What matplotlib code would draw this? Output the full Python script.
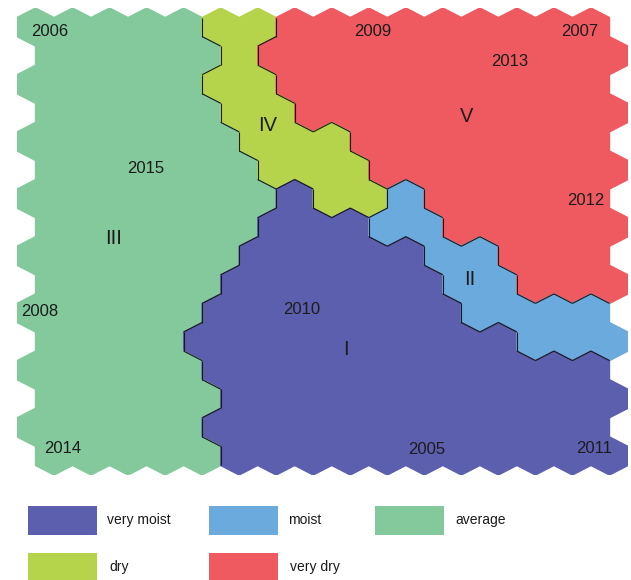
#!/usr/bin/env python3
"""
Hexagonal SOM map of the years, coloured by moisture class
"""

import matplotlib
matplotlib.use("Agg")
import matplotlib.pyplot as plt
from matplotlib.collections import PolyCollection, LineCollection
from matplotlib.patches import Rectangle

plt.rcParams['font.family'] = ['Liberation Sans', 'DejaVu Sans']

# Class of each SOM node, one string per row (odd rows shifted half a cell right)
# D = very moist, L = moist, G = average, Y = dry, R = very dry
som_rows = [
    "GGGGGYYRRRRRRRRR",
    "GGGGGYRRRRRRRRRR",
    "GGGGGYYRRRRRRRRR",
    "GGGGGYYRRRRRRRRR",
    "GGGGGGYYYRRRRRRR",
    "GGGGGGYYYRRRRRRR",
    "GGGGGGGDYYLRRRRR",
    "GGGGGGDDDLLRRRRR",
    "GGGGGGDDDDDLLRRR",
    "GGGGGDDDDDDLLRRR",
    "GGGGGDDDDDDDLLLL",
    "GGGGDDDDDDDDDLLL",
    "GGGGGDDDDDDDDDDD",
    "GGGGGDDDDDDDDDDD",
    "GGGGGDDDDDDDDDDD",
    "GGGGGDDDDDDDDDDD",
]

class_codes = ["D", "L", "G", "Y", "R"]
class_names = ["very moist", "moist", "average", "dry", "very dry"]
class_colors = ["#5b5fae", "#6aaadc", "#83c99b", "#b5d44b", "#ef5a61"]

# year labels placed on the map (grid units: column, row)
year_labels = ["2006", "2009", "2007", "2013", "2015", "2012",
               "2008", "2010", "2014", "2005", "2011"]
year_col = [0.39, 9.11, 14.70, 12.81, 2.98, 14.87, 0.12, 7.20, 0.74, 10.57, 15.08]
year_row = [0.14, 0.14, 0.14, 1.19, 4.96, 6.08, 9.96, 9.89, 14.75, 14.79, 14.75]

# cluster numbers
cluster_labels = ["I", "II", "III", "IV", "V"]
cluster_col = [8.38, 11.73, 2.12, 6.28, 11.63]
cluster_row = [11.29, 8.84, 7.38, 3.46, 3.14]


def hex_vertices(cx, cy):
    """Pointy-top hexagon, one row step = 3/4 of its height"""
    return [(cx, cy - 2 / 3), (cx + 0.5, cy - 1 / 3), (cx + 0.5, cy + 1 / 3),
            (cx, cy + 2 / 3), (cx - 0.5, cy + 1 / 3), (cx - 0.5, cy - 1 / 3)]


fig = plt.figure(figsize=(6.31, 5.80), dpi=100)
W, H = 631.0, 580.0

# map area in pixels: x 17..628, y 8..475
ax = fig.add_axes([17 / W, 1 - 475 / H, 611 / W, 467 / H])

polys = []
colors = []
edges = {}
for r, row in enumerate(som_rows):
    for c, code in enumerate(row):
        cx = c + 0.5 * (r % 2)
        verts = hex_vertices(cx, r)
        polys.append(verts)
        colors.append(class_colors[class_codes.index(code)])
        for k in range(6):
            a, b = verts[k], verts[(k + 1) % 6]
            ka = (round(a[0] * 2), round(a[1] * 3))
            kb = (round(b[0] * 2), round(b[1] * 3))
            key = tuple(sorted([ka, kb]))
            edges.setdefault(key, [a, b, []])[2].append(code)

ax.add_collection(PolyCollection(polys, facecolors=colors, edgecolors=colors,
                                 linewidths=1.0))

# thin dark line only where two classes meet
border = [(a, b) for a, b, codes in edges.values()
          if len(codes) == 2 and codes[0] != codes[1]]
ax.add_collection(LineCollection(border, colors='#1a1a1a', linewidths=0.8))

for lab, x, y in zip(year_labels, year_col, year_row):
    ax.text(x, y, lab, ha='center', va='center', fontsize=12, color='#1c1c1c')
for lab, x, y in zip(cluster_labels, cluster_col, cluster_row):
    ax.text(x, y, lab, ha='center', va='center', fontsize=14.5, color='#1c1c1c')

ax.set_xlim(-0.5, 16)
ax.set_ylim(15 + 2 / 3, -2 / 3)
ax.axis('off')

# legend under the map, laid out in pixels
lax = fig.add_axes([0, 0, 1, 100 / H])
lax.set_xlim(0, W)
lax.set_ylim(100, 0)
lax.axis('off')
box_x = [28, 209, 375]
text_x = [107, 288, 455]
box_y = [26, 73]
for i, (name, col) in enumerate(zip(class_names, class_colors)):
    cc, rr = i % 3, i // 3
    lax.add_patch(Rectangle((box_x[cc], box_y[rr]), 69, 29 if rr == 0 else 28,
                            facecolor=col, edgecolor='none', clip_on=False))
    lax.text(text_x[cc] + (2 if rr else 0), box_y[rr] + 14, name, ha='left', va='center',
             fontsize=10, color='#1a1a1a')

fig.savefig("out.png", dpi=100)
